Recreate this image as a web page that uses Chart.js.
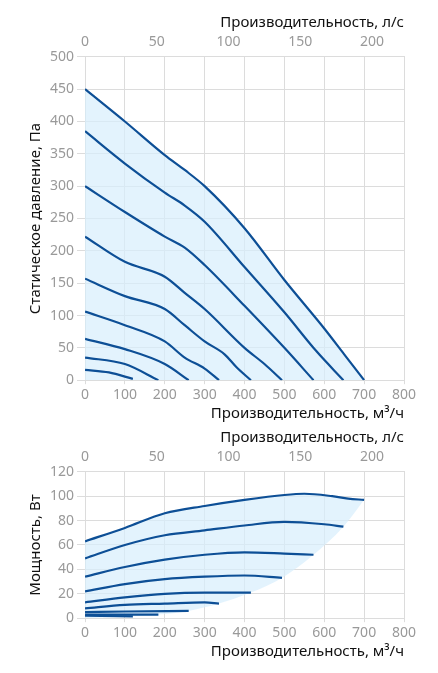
<!DOCTYPE html>
<html><head><meta charset="utf-8">
<script src="https://cdn.jsdelivr.net/npm/chart.js@4"></script>
<style>body{margin:0;background:#fff}#a{width:438px;height:425px}#b{width:438px;height:248px}</style>
</head><body><div id="a"><canvas id="c1"></canvas></div><div id="b"><canvas id="c2"></canvas></div>
<script>
const pressureCurves = [
 [[0,450],[100,400],[200,348],[250,325],[300,300],[400,235],[500,155],[600,80],[650,40],[700,0]],
 [[0,385],[100,335],[200,290],[250,270],[300,245],[400,175],[500,105],[580,45],[648,0]],
 [[0,300],[100,260],[200,222],[250,205],[300,178],[400,115],[500,50],[573,0]],
 [[0,222],[100,183],[200,160],[250,135],[300,110],[400,50],[450,25],[494,0]],
 [[0,157],[100,130],[200,110],[250,85],[300,60],[350,40],[380,20],[416,0]],
 [[0,106],[100,85],[200,60],[250,35],[300,18],[336,0]],
 [[0,64],[100,48],[200,25],[260,0]],
 [[0,35],[100,25],[184,0]],
 [[0,16],[60,12],[120,2]]
];
const powerCurves = [
 [[0,63],[100,74],[200,86],[300,92],[400,97],[500,101],[550,102],[620,100],[660,98],[700,97]],
 [[0,49],[100,60],[200,68],[300,72],[400,76],[500,79],[600,77],[648,75]],
 [[0,34],[100,42],[200,48],[300,52],[400,54],[500,53],[573,52]],
 [[0,22],[100,28],[200,32],[300,34],[400,35],[494,33]],
 [[0,13],[100,17],[200,20],[300,21],[416,21]],
 [[0,8],[100,11],[200,12],[300,13],[336,12]],
 [[0,5],[100,5.5],[260,6]],
 [[0,3],[184,3]],
 [[0,2],[120,1.5]]
];
const powerEnvelope = [[0,0],[120,1.5],[184,3],[260,6],[336,12],[416,21],[494,33],[573,52],[648,75],[700,97]];
const topTicksLs = [0,50,100,150,200];
const LINE='#0d4f96', FILL='rgba(215,238,252,0.7)', GRID='#dcdcdc', TICK='#999';
const F='"Noto Sans"';
const pts=a=>a.map(p=>({x:p[0],y:p[1]}));
function scales(ymax,ystep,ytitle){
 return {
  x:{type:'linear',min:0,max:800,ticks:{stepSize:100,padding:2,color:TICK,font:{family:F,size:14}},grid:{color:GRID,tickLength:4},border:{color:GRID},
     title:{display:true,text:'Производительность, м³/ч',align:'end',color:'#111',font:{family:F,size:15},padding:{top:0,bottom:0}}},
  x2:{type:'linear',position:'top',min:0,max:800/3.6,
     afterBuildTicks:s=>{s.ticks=topTicksLs.map(v=>({value:v}));},
     ticks:{padding:2,color:TICK,font:{family:F,size:14}},grid:{display:false,tickLength:4},border:{color:GRID},
     title:{display:true,text:'Производительность, л/с',align:'end',color:'#111',font:{family:F,size:15},padding:{top:0,bottom:0}}},
  y:{min:0,max:ymax,ticks:{stepSize:ystep,color:TICK,font:{family:F,size:14}},grid:{color:GRID},border:{color:GRID},
     title:{display:true,text:ytitle,color:'#111',font:{family:F,size:15},padding:{bottom:2}}}
 };
}
const common={responsive:true,maintainAspectRatio:false,animation:false,
 plugins:{legend:{display:false},tooltip:{enabled:false},filler:{drawTime:'beforeDatasetsDraw'}},
 elements:{point:{radius:0},line:{tension:0.4,borderWidth:2.2,borderColor:LINE,cubicInterpolationMode:'monotone'}}};
new Chart(document.getElementById('c1'),{type:'scatter',
 data:{datasets:pressureCurves.map((c,i)=>({data:pts(c),showLine:true,borderColor:LINE,fill:i===0?'origin':false,backgroundColor:FILL}))},
 options:{...common,layout:{padding:{top:14,right:34,left:23,bottom:2}},scales:scales(500,50,'Статическое давление, Па')}});
const ds2=powerCurves.map(c=>({data:pts(c),showLine:true,borderColor:LINE,fill:false}));
ds2.push({data:pts(powerEnvelope),showLine:true,borderWidth:0,borderColor:'rgba(0,0,0,0)',fill:0,backgroundColor:FILL});
new Chart(document.getElementById('c2'),{type:'scatter',data:{datasets:ds2},
 options:{...common,layout:{padding:{top:4,right:34,left:23,bottom:12}},scales:scales(120,20,'Мощность, Вт')}});
</script></body></html>
